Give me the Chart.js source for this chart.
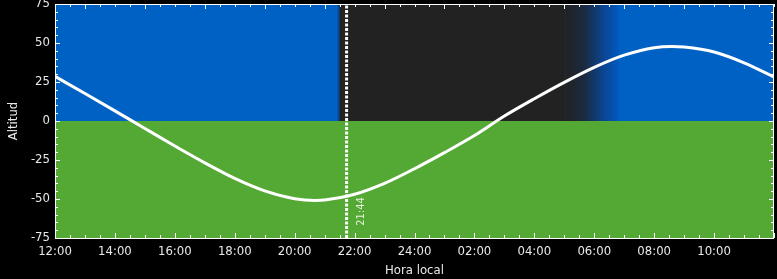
<!DOCTYPE html>
<html><head><meta charset="utf-8">
<script src="https://cdn.jsdelivr.net/npm/chart.js@4/dist/chart.umd.min.js"></script>
<style>html,body{margin:0;padding:0;background:#000;overflow:hidden}#wrap{width:777px;height:279px}</style>
</head><body><div id="wrap"><canvas id="c" width="777" height="279"></canvas></div>
<script>
// ---- data ----
const hours = [12,13,14,15,16,17,18,19,20,20.67,21,22,23,24,25,26,27,28,29,30,31,32,32.6,33,34,35,36];
const altitude = [28.6,17.6,6.5,-4.8,-16.0,-26.8,-36.8,-44.8,-49.8,-50.9,-50.6,-47.0,-40.0,-30.6,-20.3,-9.3,3.2,14.3,24.8,34.4,42.2,47.0,47.8,47.4,44.2,37.3,28.3];
const xTickValues = [12,14,16,18,20,22,24,26,28,30,32,34];
const xTickLabels = ['12:00','14:00','16:00','18:00','20:00','22:00','24:00','02:00','04:00','06:00','08:00','10:00'];
const yTickValues = [-75,-50,-25,0,25,50,75];
const yTickLabels = ['-75','-50','-25','0','25','50','75'];
const markerHour = 21 + 44/60;
const markerLabel = '21:44';
const nightStart = 21.5;
const twilightStart = 29.05;
const dayStart = 30.83;

const BLUE = '#0061c5', GREEN = '#54a834', DARK = '#222222', TXT = '#e8e8e8';
const FONT = "'DejaVu Sans Condensed', 'DejaVu Sans', sans-serif";

const bgPlugin = {
  id: 'bg',
  beforeDatasetsDraw(chart) {
    const {ctx, chartArea: a, scales: {x, y}} = chart;
    const y0 = y.getPixelForValue(0);
    ctx.save();
    ctx.fillStyle = GREEN;
    ctx.fillRect(a.left, y0, a.right - a.left, a.bottom - y0);
    ctx.fillStyle = BLUE;
    ctx.fillRect(a.left, a.top, a.right - a.left, y0 - a.top);
    const xn = x.getPixelForValue(nightStart), xt = x.getPixelForValue(twilightStart), xd = x.getPixelForValue(dayStart);
    let g0 = ctx.createLinearGradient(xn - 3, 0, xn, 0);
    g0.addColorStop(0, BLUE); g0.addColorStop(1, '#0a3a78');
    ctx.fillStyle = g0; ctx.fillRect(xn - 3, a.top, 3, y0 - a.top);
    ctx.fillStyle = DARK;
    ctx.fillRect(xn, a.top, xt - xn, y0 - a.top);
    const g = ctx.createLinearGradient(xt, 0, xd, 0);
    g.addColorStop(0, DARK);
    g.addColorStop(0.35, '#1b2a40');
    g.addColorStop(0.7, '#0b4590');
    g.addColorStop(1, '#005ac0');
    ctx.fillStyle = g;
    ctx.fillRect(xt, a.top, xd - xt, y0 - a.top);
    ctx.restore();
  },
  afterDatasetsDraw(chart) {
    const {ctx, chartArea: a, scales: {x, y}} = chart;
    ctx.save();
    ctx.strokeStyle = '#ffffff';
    ctx.lineWidth = 1;
    ctx.beginPath();
    for (let h = x.min; h <= x.max + 1e-9; h += 0.5) {
      const px = Math.round(x.getPixelForValue(h)) + 0.5;
      const isEven = Math.abs(h % 2) < 1e-9;
      const isOdd = Math.abs((h - 1) % 2) < 1e-9;
      const lb = isEven ? 5 : 3, lt = isOdd ? 5 : 3;
      ctx.moveTo(px, a.bottom); ctx.lineTo(px, a.bottom - lb);
      ctx.moveTo(px, a.top); ctx.lineTo(px, a.top + lt);
    }
    for (let v = y.min; v <= y.max + 1e-9; v += 5) {
      const py = Math.round(y.getPixelForValue(v)) + 0.5;
      const l = (Math.abs(v % 25) < 1e-9) ? 5 : 3;
      ctx.moveTo(a.left, py); ctx.lineTo(a.left + l, py);
      ctx.moveTo(a.right, py); ctx.lineTo(a.right - l, py);
    }
    ctx.stroke();
    ctx.strokeRect(Math.round(a.left) + 0.5, Math.round(a.top) + 0.5, Math.round(a.right - a.left) - 1, Math.round(a.bottom - a.top));
    const mx = x.getPixelForValue(markerHour);
    ctx.translate(mx + 15, y.getPixelForValue(-58));
    ctx.rotate(-Math.PI / 2);
    ctx.fillStyle = '#e4f2dc';
    ctx.font = '11px ' + FONT;
    ctx.textAlign = 'center';
    ctx.textBaseline = 'middle';
    ctx.fillText(markerLabel, 0, 0);
    ctx.restore();
  }
};

const tickFont = {family: FONT, size: 13};
new Chart(document.getElementById('c'), {
  type: 'line',
  data: {
    datasets: [
      {
        data: [{x: markerHour, y: -75}, {x: markerHour, y: 75}],
        borderColor: '#ffffff', borderWidth: 3, borderDash: [3, 1.5],
        pointRadius: 0, fill: false
      },
      {
        data: hours.map((h, i) => ({x: h, y: altitude[i]})),
        borderColor: '#ffffff', borderWidth: 3, pointRadius: 0,
        cubicInterpolationMode: 'monotone', fill: false
      }
    ]
  },
  options: {
    responsive: false, animation: false, devicePixelRatio: 1,
    layout: {padding: {top: 4, right: 3, left: 0, bottom: 0}},
    plugins: {legend: {display: false}, tooltip: {enabled: false}},
    scales: {
      x: {
        type: 'linear', min: 12, max: 36, position: 'bottom',
        afterBuildTicks: s => { s.ticks = xTickValues.map(v => ({value: v})); },
        afterFit: s => { s.height = 41; s.paddingLeft = 0; s.paddingRight = 0; },
        ticks: {
          callback: v => { const i = xTickValues.indexOf(v); return i >= 0 ? xTickLabels[i] : ''; },
          color: TXT, font: tickFont, padding: 6, maxRotation: 0, autoSkip: false
        },
        grid: {display: false, drawTicks: false, tickLength: 0}, border: {display: false},
        title: {display: true, text: 'Hora local', color: TXT, font: tickFont, padding: {top: 0, bottom: 1}}
      },
      y: {
        type: 'linear', min: -75, max: 75,
        afterBuildTicks: s => { s.ticks = yTickValues.map(v => ({value: v})); },
        afterFit: s => { s.width = 55; s.paddingTop = 0; s.paddingBottom = 0; },
        ticks: {
          callback: v => { const i = yTickValues.indexOf(v); return i >= 0 ? yTickLabels[i] : ''; },
          color: TXT, font: tickFont, padding: 5
        },
        grid: {display: false, drawTicks: false, tickLength: 0}, border: {display: false},
        title: {display: true, text: 'Altitud', color: TXT, font: tickFont, padding: {top: 6, bottom: 0}}
      }
    }
  },
  plugins: [bgPlugin]
});
</script></body></html>
